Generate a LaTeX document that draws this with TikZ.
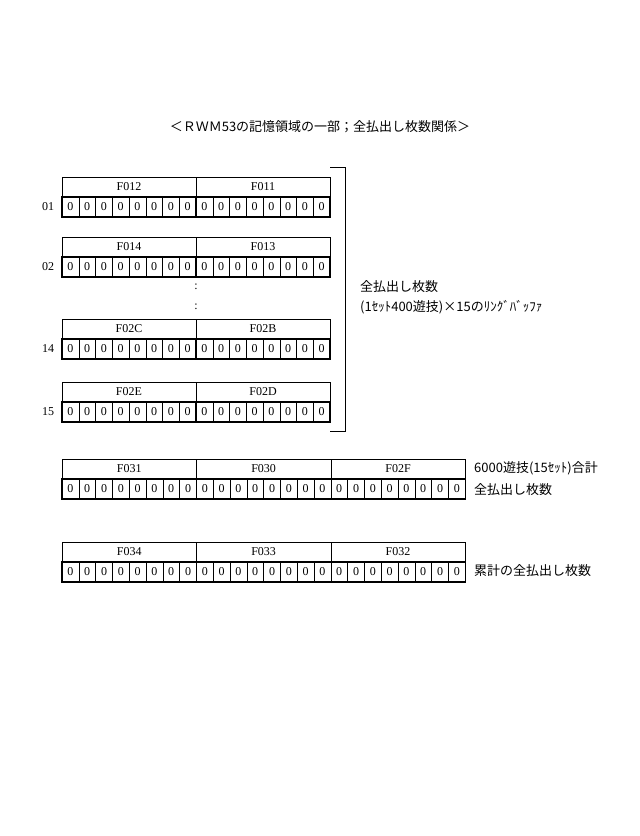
\documentclass[tikz,border=0pt]{standalone}
\usepackage{fontspec}
\setmainfont{Liberation Serif}
\newfontfamily\cjk{Noto Sans CJK JP}
\begin{document}
\begin{tikzpicture}[x=1pt,y=-1pt,
  hdr/.style={draw,line width=0.5pt},
  bitrow/.style={draw,line width=1.2pt},
  lbl/.style={font=\cjk\fontsize{13}{15}\selectfont,anchor=west,inner sep=0pt},
  txt/.style={font=\fontsize{12}{14}\selectfont,inner sep=0pt}]
\useasboundingbox (0,0) rectangle (640,836);
\node[font=\cjk\fontsize{13}{15}\selectfont] (title) at (320,127) {＜ＲＷＭ53の記憶領域の一部；全払出し枚数関係＞};
% register macro
\newcommand\regrow[6]{% #1 x0, #2 ytop, #3 ncells, #4 cellw, #5 nbytes, #6 labels
  \pgfmathsetmacro\xe{#1+#3*#4}
  \draw[hdr] (#1,#2) rectangle (\xe,#2+20);
  \foreach \k in {1,...,#5}{\pgfmathsetmacro\xd{#1+\k*8*#4}\draw[hdr] (\xd,#2) -- (\xd,#2+20);}
  \foreach \l [count=\k from 0] in {#6}{\node[txt] at ({#1+(\k*8+4)*#4},#2+10) {\l};}
  \foreach \c in {1,...,#3}{\pgfmathsetmacro\xc{#1+(\c-1)*#4}
    \draw[line width=0.5pt] (\xc,#2+20) -- (\xc,#2+40);
    \node[txt] at (\xc+#4/2,#2+30) {0};}
  \draw[bitrow] (#1,#2+20) rectangle (\xe,#2+40);
  \pgfmathsetmacro\xm{#1+8*#4}
  \draw[line width=1.2pt] (\xm,#2+20) -- (\xm,#2+40);
}
\regrow{62}{177}{16}{16.75}{1}{F012,F011}
\node[txt] (n01) at (48,207) {01};
\regrow{62}{237}{16}{16.75}{1}{F014,F013}
\node[txt] (n02) at (48,267) {02};
\node[txt] (d1) at (196,287) {:};
\node[txt] (d2) at (196,307) {:};
\regrow{62}{319}{16}{16.75}{1}{F02C,F02B}
\node[txt] (n14) at (48,349) {14};
\regrow{62}{382}{16}{16.75}{1}{F02E,F02D}
\node[txt] (n15) at (48,412) {15};
\draw[line width=0.8pt] (330,167) -- (345,167) -- (345,431) -- (330,431);
\node[lbl] (t1) at (360,287) {全払出し枚数};
\node[lbl] (t2) at (360,307) {(1ｾｯﾄ400遊技)×15のﾘﾝｸﾞﾊﾞｯﾌｧ};
\regrow{62}{459}{24}{16.8}{2}{F031,F030,F02F}
\node[lbl] (t3) at (474,468) {6000遊技(15ｾｯﾄ)合計};
\node[lbl] (t4) at (474,490) {全払出し枚数};
\regrow{62}{542}{24}{16.8}{2}{F034,F033,F032}
\node[lbl] (t5) at (474,571) {累計の全払出し枚数};
\end{tikzpicture}
\end{document}
